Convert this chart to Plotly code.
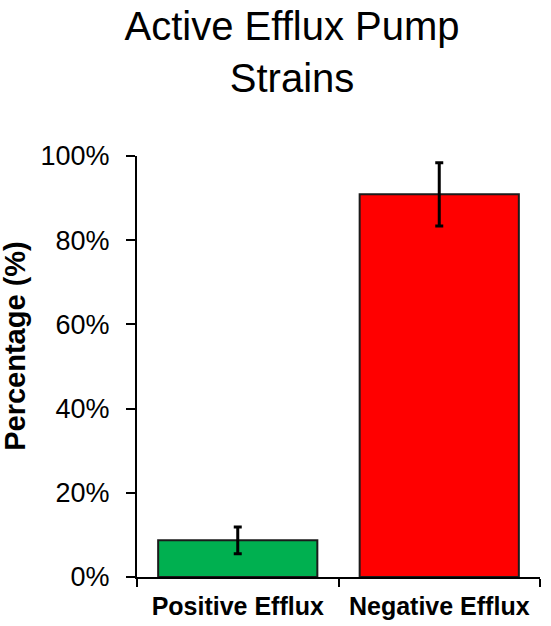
import plotly.graph_objects as go

categories = ["Positive Efflux", "Negative Efflux"]
percentages = [8.7, 90.9]
errors = [3.2, 7.5]
bar_colors = ["#00B050", "#FF0000"]
y_tick_vals = [0, 20, 40, 60, 80, 100]
y_tick_text = ["0%", "20%", "40%", "60%", "80%", "100%"]
y_title = "Percentage (%)"

FONT = "Arial, Liberation Sans, sans-serif"

fig = go.Figure()
fig.add_trace(go.Bar(
    x=categories,
    y=percentages,
    marker=dict(color=bar_colors, line=dict(color="#1b1b1b", width=2)),
    error_y=dict(type="data", array=errors, visible=True, color="black", thickness=3, width=4),
    showlegend=False,
))

fig.add_annotation(
    text=y_title, textangle=-90,
    xref="paper", yref="paper", x=-0.303, y=0.549,
    xanchor="center", yanchor="middle", showarrow=False,
    font=dict(family=FONT, size=29, color="black", weight="bold"),
)

fig.update_layout(
    width=551, height=626,
    margin=dict(l=137, r=11, t=156, b=49),
    paper_bgcolor="white", plot_bgcolor="white",
    bargap=0.21,
    title=dict(
        text="Active Efflux Pump<br>Strains",
        font=dict(family=FONT, size=40, color="black"),
        x=0.53, xref="container", xanchor="center",
        y=0.936, yref="container", yanchor="top",
    ),
    xaxis=dict(
        type="category", automargin=False,
        showline=True, linecolor="black", linewidth=2,
        ticks="outside", tickson="boundaries", ticklen=8, tickwidth=2, tickcolor="black",
        tickfont=dict(family=FONT, size=25, color="black", weight="bold"),
        ticklabelstandoff=6,
        showgrid=False, zeroline=False,
    ),
    yaxis=dict(
        range=[0, 100], automargin=False,
        tickvals=y_tick_vals, ticktext=y_tick_text,
        showline=True, linecolor="black", linewidth=2,
        ticks="outside", ticklen=9, tickwidth=2, tickcolor="black",
        tickfont=dict(family=FONT, size=27, color="black"),
        ticklabelstandoff=11,
        showgrid=False, zeroline=False,
    ),
)

fig.write_html("out.html", config={"displayModeBar": False},
               post_script="document.body.style.margin='0';")
